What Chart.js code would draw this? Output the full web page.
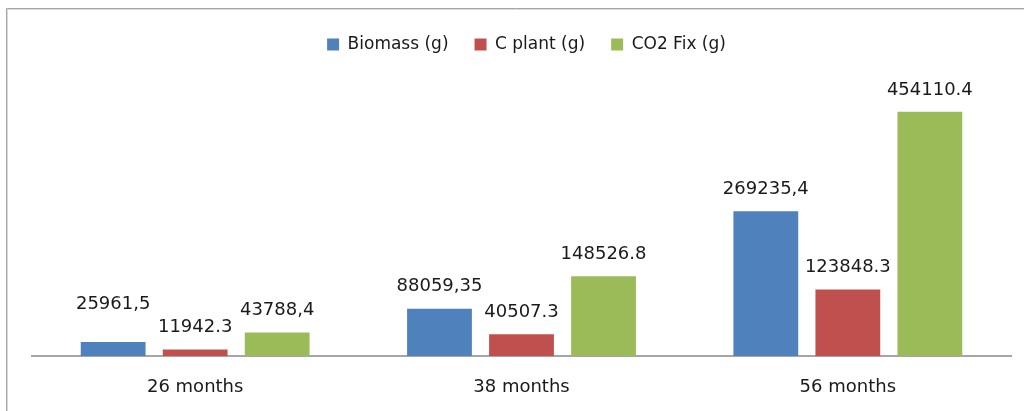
<!DOCTYPE html>
<html>
<head>
<meta charset="utf-8">
<script src="https://cdn.jsdelivr.net/npm/chart.js@4/dist/chart.umd.min.js"></script>
<style>
  html, body { margin: 0; padding: 0; background: #ffffff; }
  #wrap { width: 1024px; height: 411px; position: relative; }
</style>
</head>
<body>
<div id="wrap"><canvas id="c" width="1024" height="411"></canvas></div>
<script>
const categories = ['26 months', '38 months', '56 months'];
const seriesNames = ['Biomass (g)', 'C plant (g)', 'CO2 Fix (g)'];
const biomass = [25961.5, 88059.35, 269235.4];
const cPlant = [11942.3, 40507.3, 123848.3];
const co2Fix = [43788.4, 148526.8, 454110.4];
const biomassLabels = ['25961,5', '88059,35', '269235,4'];
const cPlantLabels = ['11942.3', '40507.3', '123848.3'];
const co2FixLabels = ['43788,4', '148526.8', '454110.4'];
const yMax = 545000;

const colors = ['#4F81BD', '#C0504D', '#9BBB59'];
const FONT = 'DejaVu Sans';

const frame = {
  id: 'frame',
  beforeDraw(chart) {
    const ctx = chart.ctx;
    ctx.save();
    ctx.strokeStyle = '#d9d9d9';
    ctx.lineWidth = 1;
    ctx.beginPath();
    ctx.moveTo(7.5, 411); ctx.lineTo(7.5, 9.5); ctx.lineTo(1024, 9.5);
    ctx.stroke();
    ctx.strokeStyle = '#a6a6a6';
    ctx.beginPath();
    ctx.moveTo(6.5, 411); ctx.lineTo(6.5, 8.5); ctx.lineTo(1024, 8.5);
    ctx.stroke();
    ctx.restore();
  }
};

const shiftLegend = {
  id: 'shiftLegend',
  afterLayout(chart, args, opts) {
    const lg = chart.legend;
    if (lg) { lg.left += opts.dx; lg.right += opts.dx; }
  }
};

const valueLabels = {
  id: 'valueLabels',
  afterDatasetsDraw(chart, args, opts) {
    const ctx = chart.ctx;
    ctx.save();
    ctx.font = opts.size + 'px "' + FONT + '"';
    ctx.fillStyle = opts.color;
    ctx.textAlign = 'center';
    ctx.textBaseline = 'middle';
    chart.data.datasets.forEach((ds, di) => {
      const meta = chart.getDatasetMeta(di);
      meta.data.forEach((el, i) => {
        const lift = (opts.lift[di] && opts.lift[di][i] != null) ? opts.lift[di][i] : opts.defaultLift;
        ctx.fillText(ds.valueText[i], el.x, el.y - lift);
      });
    });
    ctx.restore();
  }
};

new Chart(document.getElementById('c'), {
  type: 'bar',
  data: {
    labels: categories,
    datasets: [
      { label: seriesNames[0], data: biomass, valueText: biomassLabels, backgroundColor: colors[0] },
      { label: seriesNames[1], data: cPlant, valueText: cPlantLabels, backgroundColor: colors[1] },
      { label: seriesNames[2], data: co2Fix, valueText: co2FixLabels, backgroundColor: colors[2] }
    ]
  },
  options: {
    responsive: false,
    animation: false,
    devicePixelRatio: 1,
    categoryPercentage: 0.754,
    barPercentage: 0.79,
    layout: { padding: { left: 32, right: 13, top: 10, bottom: 14 } },
    plugins: {
      legend: {
        position: 'top',
        labels: {
          boxWidth: 12,
          boxHeight: 12,
          padding: 26,
          color: '#1a1a1a',
          font: { family: FONT, size: 17 }
        }
      },
      tooltip: { enabled: false },
      shiftLegend: { dx: 5 },
      valueLabels: { size: 18, color: '#1a1a1a', defaultLift: 22, lift: [[38], [], []] }
    },
    scales: {
      x: {
        grid: { display: false, drawTicks: false },
        border: { display: true, color: '#a6a6a6', width: 2 },
        ticks: { color: '#1a1a1a', padding: 21, font: { family: FONT, size: 18 } },
        afterFit(scale) { scale.height = 41; }
      },
      y: {
        display: false,
        min: 0,
        max: yMax
      }
    }
  },
  plugins: [frame, shiftLegend, valueLabels]
});
</script>
</body>
</html>
